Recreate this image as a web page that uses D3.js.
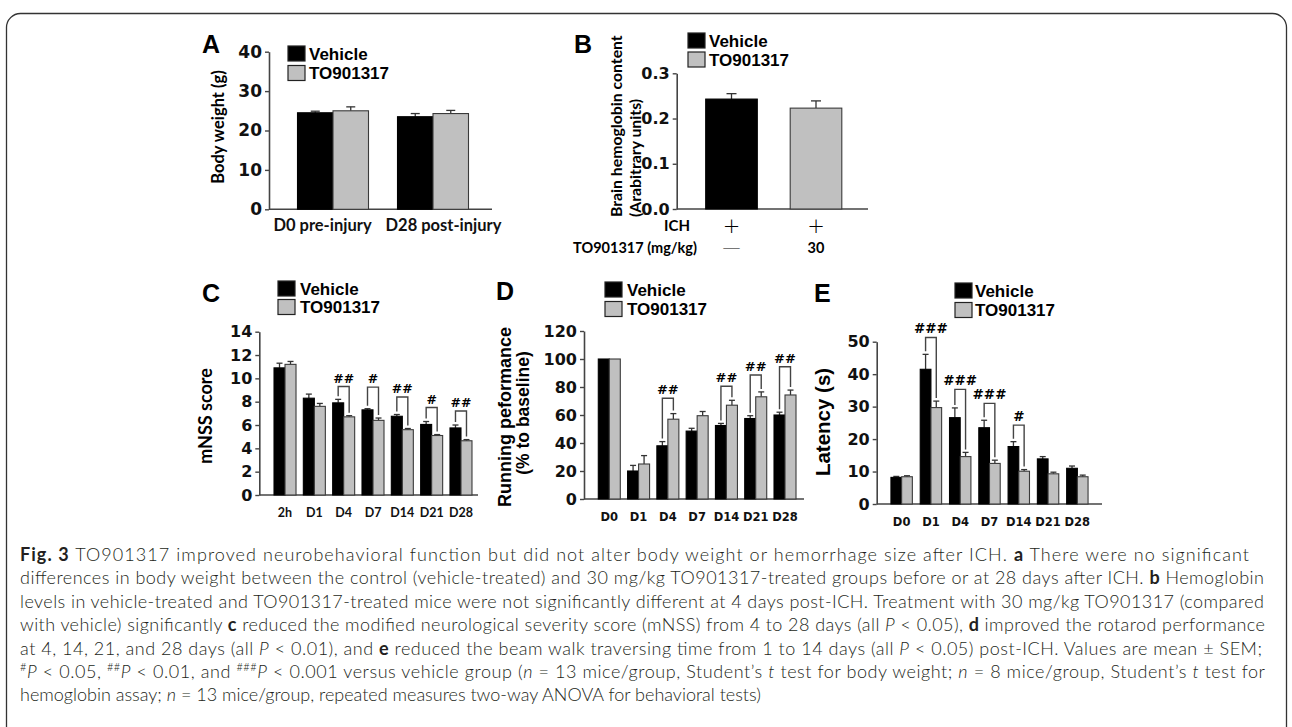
<!DOCTYPE html>
<html>
<head>
<meta charset="utf-8">
<script src="https://cdn.jsdelivr.net/npm/d3@7"></script>
<style>
  body { margin: 0; background: #fff; }
</style>
</head>
<body>
<svg id="fig" width="1292" height="727"></svg>
<script>
// ---- data ----
const legendLabels = ["Vehicle", "TO901317"];

// A: body weight (g)
const bodyCats = ["D0 pre-injury", "D28 post-injury"];
const bodyVehicle = [24.5, 23.5];
const bodyVehicleErr = [0.4, 0.8];
const bodyTO = [25.0, 24.3];
const bodyTOErr = [1.0, 0.8];
const bodyTicks = [0, 10, 20, 30, 40];

// B: brain hemoglobin content
const hbCats = ["Vehicle", "TO901317"];
const hbValues = [0.243, 0.223];
const hbErr = [0.012, 0.016];
const hbIch = ["+", "+"];
const hbDose = ["\u2014", "30"];
const hbTicks = [0, 0.1, 0.2, 0.3];

// C: mNSS score
const mnssCats = ["2h", "D1", "D4", "D7", "D14", "D21", "D28"];
const mnssVehicle = [10.9, 8.3, 7.9, 7.3, 6.75, 6.05, 5.75];
const mnssVehicleErr = [0.4, 0.35, 0.3, 0.1, 0.15, 0.25, 0.25];
const mnssTO = [11.2, 7.6, 6.7, 6.4, 5.6, 5.1, 4.65];
const mnssTOErr = [0.25, 0.25, 0.1, 0.2, 0.1, 0.08, 0.1];
const mnssSig = ["", "", "##", "#", "##", "#", "##"];
const mnssSigTop = [null, null, 9.3, 9.25, 8.4, 7.5, 7.2];
const mnssTicks = [0, 2, 4, 6, 8, 10, 12, 14];

// D: running performance (% to baseline)
const rotaCats = ["D0", "D1", "D4", "D7", "D14", "D21", "D28"];
const rotaVehicle = [100, 20, 38, 48.5, 52.5, 57.5, 60];
const rotaVehicleErr = [0, 4, 3, 2, 1.5, 2, 2];
const rotaTO = [100, 25, 57, 59.5, 67, 73, 74.3];
const rotaTOErr = [0, 6, 4, 3, 3.5, 3.5, 3.5];
const rotaSig = ["", "", "##", "", "##", "##", "##"];
const rotaSigTop = [null, null, 72, null, 80.5, 88.6, 94.5];
const rotaTicks = [0, 20, 40, 60, 80, 100, 120];

// E: latency (s)
const latCats = ["D0", "D1", "D4", "D7", "D14", "D21", "D28"];
const latVehicle = [8.2, 41.5, 26.6, 23.5, 17.7, 13.9, 11.0];
const latVehicleErr = [0.3, 4.6, 3.0, 2.3, 1.5, 0.7, 0.7];
const latTO = [8.4, 29.7, 14.6, 12.5, 10.1, 9.3, 8.4];
const latTOErr = [0.3, 2.0, 1.3, 1.0, 0.5, 0.5, 0.5];
const latSig = ["", "###", "###", "###", "#", "", ""];
const latSigTop = [null, 51.3, 35.3, 31, 24.3, null, null];
const latTicks = [0, 10, 20, 30, 40, 50];

// caption, one array per line: [text, style]
const captionLines = [
  [["Fig. 3", "b"], [" TO901317 improved neurobehavioral function but did not alter body weight or hemorrhage size after ICH. "], ["a", "b"], [" There were no significant"]],
  [["differences in body weight between the control (vehicle-treated) and 30 mg/kg TO901317-treated groups before or at 28 days after ICH. "], ["b", "b"], [" Hemoglobin"]],
  [["levels in vehicle-treated and TO901317-treated mice were not significantly different at 4 days post-ICH. Treatment with 30 mg/kg TO901317 (compared"]],
  [["with vehicle) significantly "], ["c", "b"], [" reduced the modified neurological severity score (mNSS) from 4 to 28 days (all "], ["P", "i"], [" < 0.05), "], ["d", "b"], [" improved the rotarod performance"]],
  [["at 4, 14, 21, and 28 days (all "], ["P", "i"], [" < 0.01), and "], ["e", "b"], [" reduced the beam walk traversing time from 1 to 14 days (all "], ["P", "i"], [" < 0.05) post-ICH. Values are mean \u00b1 SEM;"]],
  [["#", "sup"], ["P", "i"], [" < 0.05, "], ["##", "sup"], ["P", "i"], [" < 0.01, and "], ["###", "sup"], ["P", "i"], [" < 0.001 versus vehicle group ("], ["n", "i"], [" = 13 mice/group, Student\u2019s "], ["t", "i"], [" test for body weight; "], ["n", "i"], [" = 8 mice/group, Student\u2019s "], ["t", "i"], [" test for"]],
  [["hemoglobin assay; "], ["n", "i"], [" = 13 mice/group, repeated measures two-way ANOVA for behavioral tests)"]]
];
const captionWidths = [1229, 1244, 1244, 1245, 1242, 1245, null];

// ---- drawing ----
const ARIAL = "'Liberation Sans', Arial, sans-serif";
const WIDE = "'DejaVu Sans', 'Liberation Sans', sans-serif";
const CALIBRI = "Lato, 'Open Sans', sans-serif";
const BLACK = "#000";
const GREY = "#c0c0c0";
const AXIS = "#444";

const svg = d3.select("#fig");

// frame round the figure
svg.append("rect")
    .attr("x", 6.5).attr("y", 13.5)
    .attr("width", 1280).attr("height", 780)
    .attr("rx", 14)
    .attr("fill", "none")
    .attr("stroke", "#333")
    .attr("stroke-width", 1.3);

function panelLetter(t, x, y) {
    svg.append("text")
        .attr("x", x).attr("y", y)
        .attr("font-family", ARIAL).attr("font-weight", "bold")
        .attr("font-size", 25)
        .text(t);
}

function legend(x0, y0, gap, textX, size) {
    const g = svg.append("g");
    const items = legendLabels.map((l, i) => ({l, i}));
    g.selectAll("rect").data(items).join("rect")
        .attr("x", x0).attr("y", d => y0 + d.i * gap)
        .attr("width", 17).attr("height", 15)
        .attr("fill", d => d.i === 0 ? BLACK : GREY)
        .attr("stroke", "#222").attr("stroke-width", 1.2);
    g.selectAll("text").data(items).join("text")
        .attr("x", textX).attr("y", d => y0 + 13.5 + d.i * gap)
        .attr("font-family", ARIAL).attr("font-weight", "bold")
        .attr("font-size", size)
        .text(d => d.l);
}

function yTitle(lines) {
    lines.forEach(l => {
        svg.append("text")
            .attr("transform", `translate(${l.x},${l.y}) rotate(-90)`)
            .attr("text-anchor", l.anchor || "middle")
            .attr("dominant-baseline", "central")
            .attr("font-family", l.font).attr("font-weight", "bold")
            .attr("font-size", l.size)
            .text(l.text);
    });
}

function drawBars(cfg) {
    const g = svg.append("g");
    const x = d3.scaleBand().domain(cfg.cats).range(cfg.xRange).padding(0);
    const y = d3.scaleLinear().domain(cfg.yDomain).range(cfg.yRange);
    const bw = cfg.barW;
    const center = (c, off) => x(c) + x.bandwidth() / 2 + off * bw + bw / 2;

    // x axis line
    g.append("line")
        .attr("x1", cfg.axisX).attr("x2", cfg.axisEnd)
        .attr("y1", y(0)).attr("y2", y(0))
        .attr("stroke", AXIS).attr("stroke-width", 1.6);

    cfg.series.forEach(s => {
        const rows = cfg.cats.map((c, i) => ({
            c, i, v: s.values[i], e: s.errs[i],
            fill: typeof s.fill === "function" ? s.fill(i) : s.fill
        }));
        const eb = g.append("g").attr("stroke", "#333").attr("stroke-width", 1.3);
        const withErr = rows.filter(d => d.e > 0);
        eb.selectAll("line.stem").data(withErr).join("line")
            .attr("class", "stem")
            .attr("x1", d => center(d.c, s.offset)).attr("x2", d => center(d.c, s.offset))
            .attr("y1", d => y(d.v)).attr("y2", d => y(d.v + d.e));
        eb.selectAll("line.cap").data(withErr).join("line")
            .attr("class", "cap")
            .attr("x1", d => center(d.c, s.offset) - cfg.cap / 2)
            .attr("x2", d => center(d.c, s.offset) + cfg.cap / 2)
            .attr("y1", d => y(d.v + d.e)).attr("y2", d => y(d.v + d.e));
        g.append("g").selectAll("rect").data(rows).join("rect")
            .attr("x", d => x(d.c) + x.bandwidth() / 2 + s.offset * bw)
            .attr("y", d => y(d.v))
            .attr("width", bw)
            .attr("height", d => y(0) - y(d.v))
            .attr("fill", d => d.fill)
            .attr("stroke", d => d.fill === BLACK ? "#000" : "#3a3a3a")
            .attr("stroke-width", 1.1);
    });

    // y axis
    const ya = g.append("g")
        .attr("transform", `translate(${cfg.axisX},0)`)
        .call(d3.axisLeft(y).tickValues(cfg.ticks).tickFormat(cfg.fmt || d3.format("d"))
            .tickSize(4).tickPadding(3).tickSizeOuter(0));
    ya.select(".domain").attr("stroke", AXIS).attr("stroke-width", 1.6);
    ya.selectAll(".tick line").attr("stroke", AXIS).attr("stroke-width", 1.4);
    ya.selectAll(".tick text")
        .attr("font-family", WIDE).attr("font-weight", "bold")
        .attr("font-size", cfg.tickSize || 16).attr("fill", "#111");

    // x labels
    if (cfg.xLabelY) {
        const xa = g.append("g")
            .attr("transform", `translate(0,${cfg.xLabelY})`)
            .call(d3.axisBottom(x).tickSize(0).tickPadding(0));
        xa.select(".domain").remove();
        xa.selectAll(".tick text")
            .attr("y", 0).attr("dy", 0)
            .attr("dx", (d, i) => cfg.xLabelShift ? cfg.xLabelShift[i] : 0)
            .attr("font-family", cfg.xLabelFont).attr("font-weight", "bold")
            .attr("font-size", cfg.xLabelSize).attr("fill", "#111");
    }

    // significance brackets
    if (cfg.sig) {
        const [sv, st] = cfg.series;
        const rows = cfg.cats.map((c, i) => ({c, i, s: cfg.sig[i], top: cfg.sigTop[i]}))
            .filter(d => d.s);
        const bg = g.append("g");
        bg.selectAll("path").data(rows).join("path")
            .attr("d", d => {
                const lx = center(d.c, sv.offset), rx = center(d.c, st.offset);
                const ty = y(d.top);
                const lb = y(sv.values[d.i] + sv.errs[d.i]) - 3;
                const rb = y(st.values[d.i] + st.errs[d.i]) - 3;
                return `M${lx},${lb}V${ty}H${rx}V${rb}`;
            })
            .attr("fill", "none").attr("stroke", AXIS).attr("stroke-width", 1.4);
        bg.selectAll("text").data(rows).join("text")
            .attr("x", d => x(d.c) + x.bandwidth() / 2)
            .attr("y", d => y(d.top) - 4)
            .attr("text-anchor", "middle")
            .attr("font-family", WIDE).attr("font-weight", "bold")
            .attr("font-size", cfg.sigSize)
            .text(d => d.s);
    }
    return {x, y};
}

// ---- panel A ----
panelLetter("A", 202, 53);
legend(288, 46, 19.5, 309, 17);
drawBars({
    cats: bodyCats, xRange: [283, 483], yDomain: [0, 40], yRange: [209.3, 51.7],
    axisX: 269, axisEnd: 492, barW: 35.5, cap: 9, ticks: bodyTicks, tickSize: 17,
    series: [
        {values: bodyVehicle, errs: bodyVehicleErr, fill: BLACK, offset: -1},
        {values: bodyTO, errs: bodyTOErr, fill: GREY, offset: 0}
    ],
    xLabelY: 231, xLabelFont: CALIBRI, xLabelSize: 16.5, xLabelShift: [-10.5, 10.5]
});
yTitle([{text: "Body weight (g)", x: 218, y: 127, font: CALIBRI, size: 16.5}]);

// ---- panel B ----
panelLetter("B", 574, 53);
legend(688, 33, 19, 709, 17);
const pB = drawBars({
    cats: hbCats, xRange: [689.25, 858.25], yDomain: [0, 0.3], yRange: [209, 73.3],
    axisX: 676.7, axisEnd: 868, barW: 51.6, cap: 10, ticks: hbTicks,
    fmt: d3.format(".1f"), tickSize: 16,
    series: [
        {values: hbValues, errs: hbErr, fill: i => i === 0 ? BLACK : GREY, offset: -0.5}
    ]
});
yTitle([
    {text: "Brain hemoglobin content", x: 615, y: 217, anchor: "start", font: CALIBRI, size: 15.8},
    {text: "(Arabitrary units)", x: 634, y: 217, anchor: "start", font: CALIBRI, size: 15.8}
]);
svg.append("text").attr("x", 690).attr("y", 231).attr("text-anchor", "end")
    .attr("font-family", CALIBRI).attr("font-weight", "bold").attr("font-size", 15)
    .text("ICH");
svg.append("text").attr("x", 697).attr("y", 253).attr("text-anchor", "end")
    .attr("font-family", CALIBRI).attr("font-weight", "bold").attr("font-size", 14.5)
    .text("TO901317 (mg/kg)");
svg.append("g").selectAll("text").data(hbCats.map((c, i) => ({c, t: hbIch[i]}))).join("text")
    .attr("x", d => pB.x(d.c) + pB.x.bandwidth() / 2)
    .attr("y", 233).attr("text-anchor", "middle")
    .attr("font-family", "'DejaVu Sans', sans-serif").attr("font-weight", 200).attr("font-size", 21)
    .text(d => d.t);
svg.append("g").selectAll("text").data(hbCats.map((c, i) => ({c, t: hbDose[i]}))).join("text")
    .attr("x", d => pB.x(d.c) + pB.x.bandwidth() / 2 - (d.t === "30" ? 0 : 10))
    .attr("y", 253)
    .attr("text-anchor", d => d.t === "30" ? "middle" : "start")
    .attr("font-family", CALIBRI).attr("font-weight", d => d.t === "30" ? "bold" : 300)
    .attr("font-size", 14.5)
    .attr("textLength", d => d.t === "30" ? null : 20)
    .attr("lengthAdjust", "spacingAndGlyphs")
    .text(d => d.t);

// ---- panel C ----
panelLetter("C", 202, 302);
legend(278, 281, 18.5, 300, 17);
drawBars({
    cats: mnssCats, xRange: [270.35, 475.65], yDomain: [0, 14], yRange: [495, 331.7],
    axisX: 259.3, axisEnd: 478, barW: 11, cap: 6, ticks: mnssTicks, tickSize: 16,
    series: [
        {values: mnssVehicle, errs: mnssVehicleErr, fill: BLACK, offset: -1},
        {values: mnssTO, errs: mnssTOErr, fill: GREY, offset: 0}
    ],
    sig: mnssSig, sigTop: mnssSigTop, sigSize: 12.5,
    xLabelY: 517, xLabelFont: CALIBRI, xLabelSize: 12.5
});
yTitle([{text: "mNSS score", x: 205, y: 416, font: CALIBRI, size: 18}]);

// ---- panel D ----
panelLetter("D", 496, 300);
legend(605, 282, 19.5, 627, 17);
drawBars({
    cats: rotaCats, xRange: [594.65, 799.65], yDomain: [0, 120], yRange: [499, 331],
    axisX: 584, axisEnd: 804, barW: 11, cap: 6, ticks: rotaTicks, tickSize: 16,
    series: [
        {values: rotaVehicle, errs: rotaVehicleErr, fill: BLACK, offset: -1},
        {values: rotaTO, errs: rotaTOErr, fill: GREY, offset: 0}
    ],
    sig: rotaSig, sigTop: rotaSigTop, sigSize: 13,
    xLabelY: 521, xLabelFont: WIDE, xLabelSize: 11.5
});
yTitle([
    {text: "Running peformance", x: 505, y: 417, font: ARIAL, size: 18},
    {text: "(% to baseline)", x: 523, y: 413, font: ARIAL, size: 17.5}
]);

// ---- panel E ----
panelLetter("E", 814, 302);
legend(955, 283, 19.5, 975, 17);
drawBars({
    cats: latCats, xRange: [887, 1092], yDomain: [0, 50], yRange: [504, 341.7],
    axisX: 876.7, axisEnd: 1102, barW: 10.7, cap: 6, ticks: latTicks, tickSize: 16,
    series: [
        {values: latVehicle, errs: latVehicleErr, fill: BLACK, offset: -1},
        {values: latTO, errs: latTOErr, fill: GREY, offset: 0}
    ],
    sig: latSig, sigTop: latSigTop, sigSize: 13.5,
    xLabelY: 526, xLabelFont: WIDE, xLabelSize: 11.5
});
yTitle([{text: "Latency (s)", x: 822, y: 422, font: ARIAL, size: 20.5}]);

// ---- caption ----
const cap = svg.append("g")
    .attr("font-family", CALIBRI).attr("font-size", 18).attr("fill", "#231f20");
captionLines.forEach((line, li) => {
    const t = cap.append("text")
        .attr("x", 20).attr("y", 561 + li * 23.4)
        .attr("font-weight", 300);
    if (captionWidths[li]) {
        t.attr("textLength", captionWidths[li]).attr("lengthAdjust", "spacing");
    }
    let raised = false;
    line.forEach(([txt, st]) => {
        const ts = t.append("tspan").text(txt);
        if (st === "b") ts.attr("font-weight", "bold");
        if (st === "i") ts.attr("font-style", "italic");
        if (st === "sup") {
            ts.attr("font-size", 11).attr("dy", -7);
            raised = true;
        } else if (raised) {
            ts.attr("dy", 7);
            raised = false;
        }
    });
});
</script>
</body>
</html>
